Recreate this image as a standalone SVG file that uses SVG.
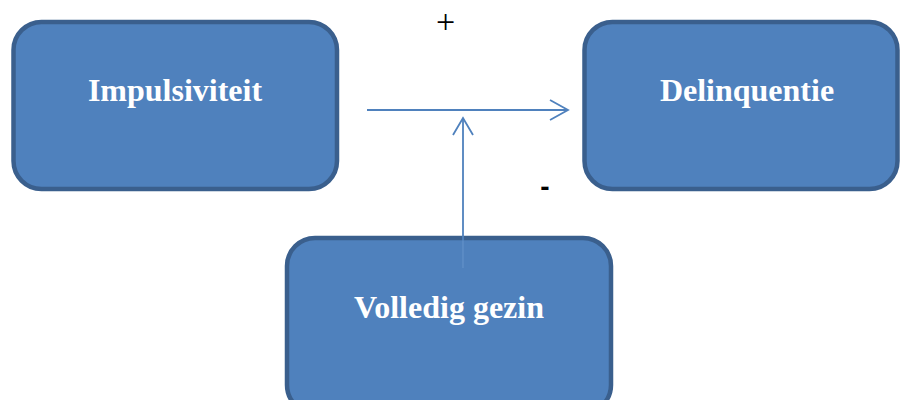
<svg xmlns="http://www.w3.org/2000/svg" width="901" height="400" viewBox="0 0 901 400">
<style>
.box{fill:#4F81BD;stroke:#3A5F8D;stroke-width:4.5}
.lbl{fill:#FFFFFF;font-family:"Liberation Serif","Times New Roman",serif;font-weight:bold;font-size:32px;text-anchor:middle}
.conn{stroke:#4F81BD;stroke-width:1.8;fill:none}
.sign{fill:#000000;text-anchor:middle}
</style>
<rect width="901" height="400" fill="#FFFFFF"/>
<g id="node-impulsiviteit">
<rect class="box" x="13.5" y="22" width="323.5" height="167" rx="28"/>
<text class="lbl" x="175" y="100.5">Impulsiviteit</text>
</g>
<g id="node-delinquentie">
<rect class="box" x="584.5" y="22" width="313" height="167" rx="28"/>
<text class="lbl" x="747" y="100.5">Delinquentie</text>
</g>
<g id="node-volledig-gezin">
<rect class="box" x="287" y="238" width="324" height="175" rx="28"/>
<text class="lbl" x="449" y="318">Volledig gezin</text>
</g>
<g id="connectors">
<line class="conn" x1="367" y1="110" x2="568" y2="110"/>
<polyline class="conn" points="550,100 568,110 550,120"/>
<line class="conn" x1="463" y1="268" x2="463" y2="118"/>
<line x1="463" y1="240.5" x2="463" y2="268" stroke="#6B98CF" stroke-width="1.5" opacity="0.6"/>
<polyline class="conn" points="453,135 463,118 473,135"/>
</g>
<text class="sign" x="445.5" y="33" style="font-family:'Liberation Serif','Times New Roman',serif;font-size:34px">+</text>
<text class="sign" x="545" y="196" style="font-family:'Liberation Sans',Arial,sans-serif;font-weight:bold;font-size:28px">-</text>
</svg>
